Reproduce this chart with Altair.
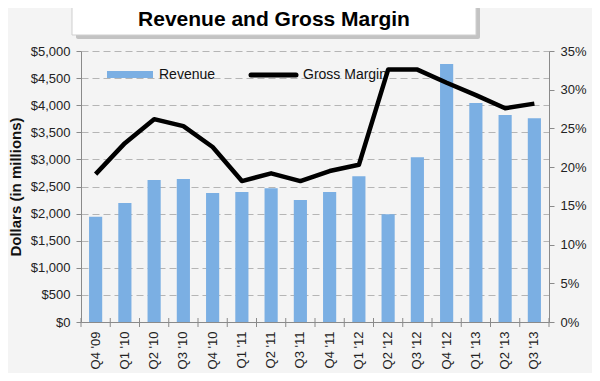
import altair as alt
import pandas as pd

quarters = ["Q4 '09", "Q1 '10", "Q2 '10", "Q3 '10", "Q4 '10", "Q1 '11", "Q2 '11", "Q3 '11",
            "Q4 '11", "Q1 '12", "Q2 '12", "Q3 '12", "Q4 '12", "Q1 '13", "Q2 '13", "Q3 '13"]
revenue = [1940, 2195, 2620, 2640, 2380, 2400, 2470, 2250,
           2400, 2690, 1990, 3040, 4760, 4040, 3820, 3760]
gross_margin = [0.191, 0.231, 0.262, 0.253, 0.226, 0.182, 0.192, 0.182,
                0.195, 0.203, 0.326, 0.326, 0.309, 0.293, 0.276, 0.282]

df = pd.DataFrame({"Quarter": quarters, "Revenue": revenue, "Gross Margin": gross_margin})

FONT = "Liberation Sans"
BAR = "#7BAFE3"
AX = "#8a8a8a"
PI = 0.55
W, H = 468, 271
STEP = W / len(quarters)

xscale = alt.Scale(paddingInner=PI, paddingOuter=PI / 2)
xenc = alt.X("Quarter:N", sort=quarters, title=None, scale=xscale,
             axis=alt.Axis(labelAngle=-90, labelFontSize=13, labelColor="#222",
                           labelPadding=9, ticks=False, domainColor=AX,
                           labelFont=FONT, grid=False))

base = alt.Chart(df)

bars = base.mark_bar(color=BAR).encode(
    x=xenc,
    y=alt.Y("Revenue:Q", scale=alt.Scale(domain=[0, 5000], nice=False),
            title="Dollars (in millions)",
            axis=alt.Axis(orient="left", values=list(range(0, 5001, 500)), format="$,.0f",
                          labelFontSize=13, labelColor="#222", labelFont=FONT,
                          titleFont=FONT, titleFontSize=15, titleFontWeight="bold",
                          titleColor="#111", titlePadding=7,
                          grid=True, gridDash=[7, 4], gridColor="#b5b5b5",
                          domainColor=AX, tickColor=AX, tickSize=5, labelPadding=6)),
)

# category boundary ticks on the x axis (Excel style)
xticks = base.mark_rule(color=AX, strokeWidth=1, xOffset=-STEP * PI / 2).encode(
    x=alt.X("Quarter:N", sort=quarters, bandPosition=0, scale=xscale),
    y=alt.value(H - 4), y2=alt.value(H + 5))
legend_df = pd.DataFrame({"k": [0]})
xtick_end = alt.Chart(legend_df).mark_rule(color=AX, strokeWidth=1).encode(
    x=alt.value(W), y=alt.value(H - 4), y2=alt.value(H + 5))

legend_rect = alt.Chart(legend_df).mark_rect(color=BAR).encode(
    x=alt.value(26), x2=alt.value(72), y=alt.value(20), y2=alt.value(27))
legend_t1 = alt.Chart(legend_df).mark_text(text="Revenue", align="left", baseline="middle",
                                           font=FONT, fontSize=14, color="#111").encode(
    x=alt.value(78), y=alt.value(24))
legend_line = alt.Chart(legend_df).mark_rule(color="black", strokeWidth=5, strokeCap="round").encode(
    x=alt.value(170), x2=alt.value(215), y=alt.value(24))
legend_t2 = alt.Chart(legend_df).mark_text(text="Gross Margin", align="left", baseline="middle",
                                           font=FONT, fontSize=14, color="#111").encode(
    x=alt.value(222), y=alt.value(24))

line = base.mark_line(color="black", strokeWidth=4.5, strokeJoin="round").encode(
    x=xenc,
    y=alt.Y("Gross Margin:Q", scale=alt.Scale(domain=[0, 0.35], nice=False), title=None,
            axis=alt.Axis(orient="right", values=[0, 0.05, 0.1, 0.15, 0.2, 0.25, 0.3, 0.35],
                          format=".0%", labelFontSize=13, labelColor="#222", labelFont=FONT,
                          grid=False, domainColor=AX, tickColor=AX, tickSize=5, labelPadding=6)),
)

shadow = alt.Chart(legend_df).mark_rect(color="#9a9a9a", opacity=0.55, cornerRadius=2).encode(
    x=alt.value(-5), x2=alt.value(399), y=alt.value(-44), y2=alt.value(-12))
box = alt.Chart(legend_df).mark_rect(color="white", stroke="#cfcfcf", strokeWidth=1).encode(
    x=alt.value(-9), x2=alt.value(395), y=alt.value(-48), y2=alt.value(-16))
title = alt.Chart(legend_df).mark_text(text="Revenue and Gross Margin", align="center",
                                       baseline="middle", font=FONT, fontSize=21,
                                       fontWeight="bold", color="#000").encode(
    x=alt.value(193), y=alt.value(-31))

chart = alt.layer(bars, xticks, xtick_end, legend_rect, legend_t1, legend_line, legend_t2, line,
                  shadow, box, title).resolve_scale(y="independent").properties(
    width=W, height=H,
    padding={"left": 73, "top": 43, "right": 43, "bottom": 51},
    autosize=alt.AutoSizeParams(type="none"),
    background="#f4f4f4",
).configure_view(stroke=None)

chart.save("out.html", embed_options={"renderer": "svg", "actions": False})
